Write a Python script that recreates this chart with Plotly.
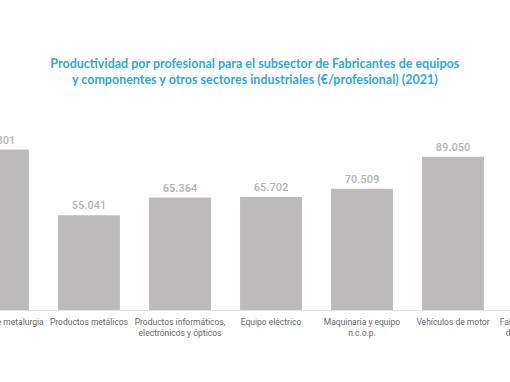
import plotly.graph_objects as go

categories = [
    "Industrias de metalurgia",
    "Productos metálicos",
    "Productos informáticos,<br>electrónicos y ópticos",
    "Equipo eléctrico",
    "Maquinaria y equipo<br>n.c.o.p.",
    "Vehículos de motor",
    "Fabricación de material<br>de otros transportes",
]
values = [93301, 55041, 65364, 65702, 70509, 89050, 76000]
title_text = ("Productividad por profesional para el subsector de Fabricantes de equipos<br>"
              "y componentes y otros sectores industriales (€/profesional) (2021)")

fig = go.Figure()
fig.add_trace(go.Bar(
    x=categories, y=values, width=0.68,
    marker=dict(color="#bcbabb", line=dict(width=0)),
    text=values, texttemplate="%{y:,.0f}", textposition="outside",
    textfont=dict(family="Roboto", size=11, color="#b4b4b4", weight=500),
    cliponaxis=False, hoverinfo="skip",
))

fig.update_layout(
    width=700, height=382,
    margin=dict(l=0, r=0, t=138, b=72),
    paper_bgcolor="white", plot_bgcolor="white",
    separators=",.",
    showlegend=False,
    title=dict(text=title_text, x=0.464, xanchor="center", y=0.822, yanchor="middle",
               font=dict(family="Lato", size=12.5, color="#2ea8dc", weight=700)),
    xaxis=dict(type="category", range=[-0.747, 6.945], showgrid=False, zeroline=False,
               ticks="", showline=True, linecolor="#e2e2e2", linewidth=1,
               tickangle=0,
               tickfont=dict(family="Roboto", size=8.5, color="#686868"),
               ticklabelstandoff=4),
    yaxis=dict(range=[0, 100000], visible=False, showgrid=False, zeroline=False),
    bargap=0.3,
)

post = ("document.body.style.margin='0';"
        "document.body.style.overflow='hidden';"
        "document.getElementById('{plot_id}').style.marginLeft='-70px';")
fig.write_html("out.html", post_script=post,
               config={"displayModeBar": False, "staticPlot": True})
